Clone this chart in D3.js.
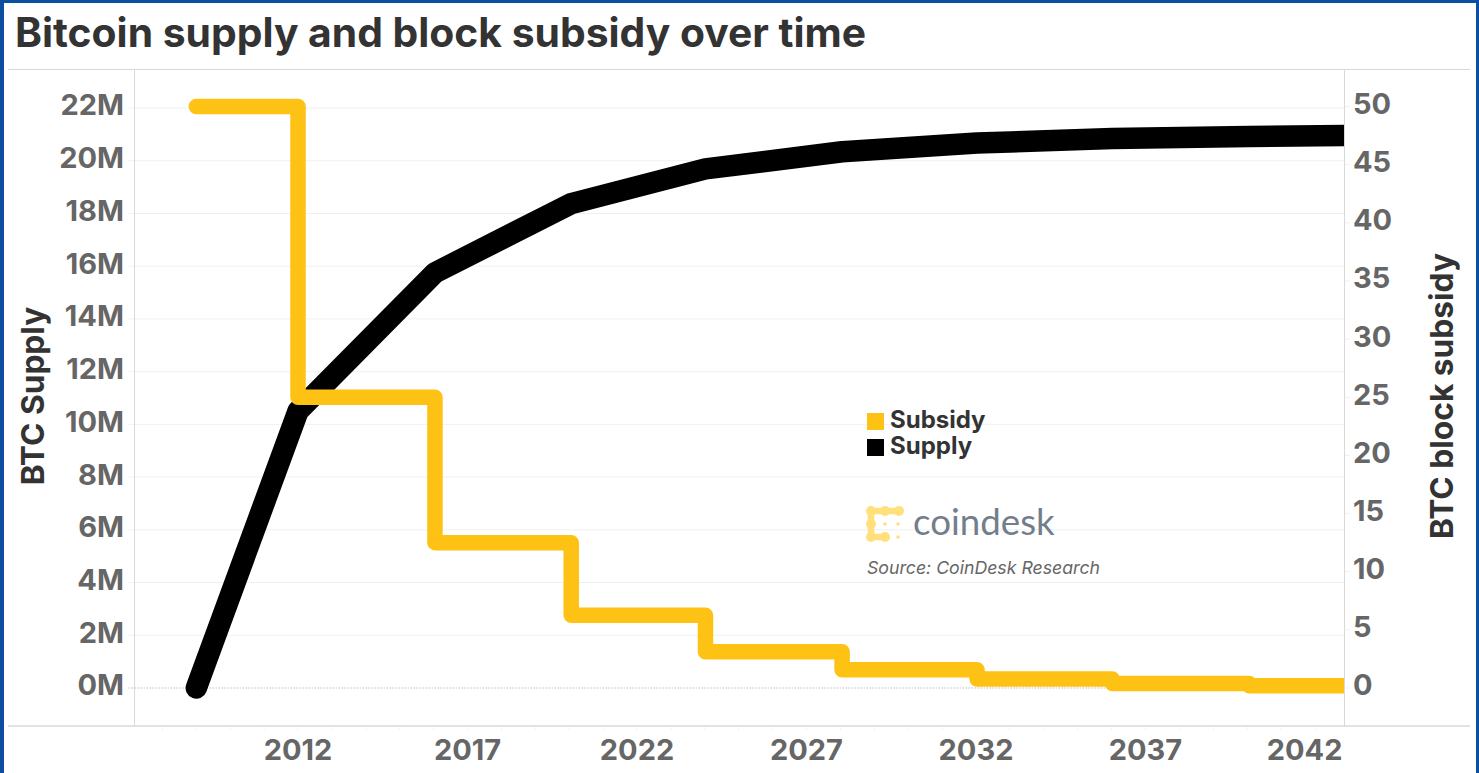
<!DOCTYPE html>
<html>
<head>
<meta charset="utf-8">
<script src="https://cdn.jsdelivr.net/npm/d3@7"></script>
<style>
  html, body { margin: 0; padding: 0; background: #fff; }
  svg { display: block; }
  text { font-family: Inter, sans-serif; }
</style>
</head>
<body>
<svg id="chart" width="1479" height="773"></svg>
<script>
// Bitcoin issuance schedule, sampled at each halving
const years = [2009, 2012, 2016.04, 2020.06, 2024.02, 2028.05, 2032.03, 2036.02, 2040.06, 2043];
const supplyMillions = [0, 10.5, 15.75, 18.375, 19.69, 20.34, 20.67, 20.84, 20.92, 20.96];
const subsidyBtc = [50, 25, 12.5, 6.25, 3.125, 1.5625, 0.78, 0.39, 0.195, 0.195];

const supplyTicks = [0, 2, 4, 6, 8, 10, 12, 14, 16, 18, 20, 22];
const subsidyTicks = [0, 5, 10, 15, 20, 25, 30, 35, 40, 45, 50];
const yearTicks = [2012, 2017, 2022, 2027, 2032, 2037, 2042];
const minorYears = d3.range(2008, 2043);
const legendLabels = ["Subsidy", "Supply"];

const gold = "#fec215", ink = "#000", grey = "#666", titleInk = "#333", rule = "#d9d9d9", grid = "#f0f0f0";
const frame = { left: 134.5, right: 1344.5, top: 69.5, bottom: 726 };

const svg = d3.select("#chart");

const x = d3.scaleLinear().domain([2012, 2042]).range([298, 1315]);
const ySupply = d3.scaleLinear().domain([0, 22]).range([688, 108]);
const ySubsidy = d3.scaleLinear().domain([0, 50]).range([688, 106.5]);

svg.append("clipPath").attr("id", "plot-clip").append("rect")
  .attr("x", frame.left).attr("y", frame.top)
  .attr("width", frame.right - frame.left - 0.5).attr("height", frame.bottom - frame.top);

// Horizontal gridlines; the zero line is dotted
svg.append("g").selectAll("line").data(supplyTicks).join("line")
  .attr("x1", frame.left - 6).attr("x2", frame.right)
  .attr("y1", d => ySupply(d)).attr("y2", d => ySupply(d))
  .attr("stroke", d => d === 0 ? "#bdbdbd" : grid)
  .attr("stroke-width", 1)
  .attr("stroke-dasharray", d => d === 0 ? "1.5 1.5" : null);

// Short ticks beside the right-hand axis
svg.append("g").selectAll("line").data(subsidyTicks).join("line")
  .attr("x1", frame.right).attr("x2", frame.right + 5)
  .attr("y1", d => ySubsidy(d)).attr("y2", d => ySubsidy(d))
  .attr("stroke", grid);

// Frame rules
const rules = svg.append("g").attr("stroke", rule).attr("stroke-width", 1);
rules.append("line").attr("x1", 8).attr("x2", 1470).attr("y1", frame.top).attr("y2", frame.top);
rules.append("line").attr("x1", 8).attr("x2", 1470).attr("y1", frame.bottom).attr("y2", frame.bottom).attr("stroke-width", 1.5);
rules.append("line").attr("x1", frame.left).attr("x2", frame.left).attr("y1", frame.top).attr("y2", frame.bottom);
rules.append("line").attr("x1", frame.right).attr("x2", frame.right).attr("y1", frame.top).attr("y2", frame.bottom);

// Yearly tick marks under the time axis
svg.append("g").selectAll("line").data(minorYears).join("line")
  .attr("x1", d => x(d)).attr("x2", d => x(d))
  .attr("y1", frame.bottom + 1).attr("y2", frame.bottom + 4)
  .attr("stroke", "#f2f2f2");

// Series
const plot = svg.append("g").attr("clip-path", "url(#plot-clip)");
const supplyLine = d3.line().x((d, i) => x(years[i])).y(d => ySupply(d));
const subsidyLine = d3.line().x((d, i) => x(years[i])).y(d => ySubsidy(d)).curve(d3.curveStepAfter);

plot.append("path").attr("d", supplyLine(supplyMillions))
  .attr("fill", "none").attr("stroke", ink).attr("stroke-width", 21.5)
  .attr("stroke-linecap", "round").attr("stroke-linejoin", "round");
plot.append("path").attr("d", subsidyLine(subsidyBtc))
  .attr("fill", "none").attr("stroke", gold).attr("stroke-width", 15.5)
  .attr("stroke-linecap", "round").attr("stroke-linejoin", "round");

// Axis labels
const tickFont = { size: 29, weight: 700 };
svg.append("g").selectAll("text").data(supplyTicks).join("text")
  .attr("x", 124).attr("y", d => ySupply(d) - 3).attr("dy", "0.36em")
  .attr("text-anchor", "end").attr("fill", grey)
  .attr("font-size", tickFont.size).attr("font-weight", tickFont.weight)
  .text(d => d + "M");

svg.append("g").selectAll("text").data(subsidyTicks).join("text")
  .attr("x", 1353).attr("y", d => ySubsidy(d) - 3).attr("dy", "0.36em")
  .attr("text-anchor", "start").attr("fill", grey)
  .attr("font-size", tickFont.size).attr("font-weight", tickFont.weight)
  .text(d => d);

// The last year label is pulled in so it stays inside the frame
const lastYear = yearTicks[yearTicks.length - 1];
svg.append("g").selectAll("text").data(yearTicks).join("text")
  .attr("x", d => d === lastYear ? frame.right - 2 : x(d)).attr("y", 760)
  .attr("text-anchor", d => d === lastYear ? "end" : "middle").attr("fill", grey)
  .attr("font-size", tickFont.size).attr("font-weight", tickFont.weight)
  .text(d => d);

// Axis titles
svg.append("text").attr("transform", "translate(43.5,396) rotate(-90)")
  .attr("text-anchor", "middle").attr("fill", titleInk)
  .attr("font-size", 31.7).attr("font-weight", 700).text("BTC Supply");
svg.append("text").attr("transform", "translate(1453,396) rotate(-90)")
  .attr("text-anchor", "middle").attr("fill", titleInk)
  .attr("font-size", 31.7).attr("font-weight", 700).text("BTC block subsidy");

// Title
svg.append("text").attr("x", 15).attr("y", 47).attr("fill", titleInk)
  .attr("font-size", 40.8).attr("font-weight", 700)
  .text("Bitcoin supply and block subsidy over time");

// Legend
const legend = svg.append("g").selectAll("g").data(legendLabels).join("g")
  .attr("transform", (d, i) => `translate(867,${413 + i * 26})`);
legend.append("rect").attr("width", 17).attr("height", 17)
  .attr("fill", (d, i) => i === 0 ? gold : ink);
legend.append("text").attr("x", 23).attr("y", 15).attr("fill", titleInk)
  .attr("font-size", 24).attr("font-weight", 700).text(d => d);

// Wordmark: a chain of linked dots beside the name
const markColor = "#ffe07a";
const mark = svg.append("g");
mark.append("path")
  .attr("d", "M899 511H871V537H885")
  .attr("fill", "none").attr("stroke", markColor).attr("stroke-width", 6.5);
[[871, 511], [885, 511], [899, 511], [871, 524], [871, 537], [885, 537]]
  .forEach(([cx, cy]) => mark.append("circle").attr("cx", cx).attr("cy", cy).attr("r", 5).attr("fill", markColor));
[[885, 524], [898, 524], [898, 537]]
  .forEach(([cx, cy]) => mark.append("circle").attr("cx", cx).attr("cy", cy).attr("r", 1.8).attr("fill", markColor));
svg.append("text").attr("x", 913).attr("y", 535).attr("fill", "#737e8c")
  .style("font-family", "Lato").attr("font-size", 36.7).text("coindesk");

// Source note
svg.append("text").attr("x", 867).attr("y", 574).attr("fill", "#666")
  .attr("font-size", 17.7).attr("font-style", "italic").text("Source: CoinDesk Research");

// Outer border
svg.append("path").attr("fill", "#0b4f9e").attr("fill-rule", "evenodd")
  .attr("d", "M0 0H1479V773H0Z M4 3V773H1476V3Z");
</script>
</body>
</html>
